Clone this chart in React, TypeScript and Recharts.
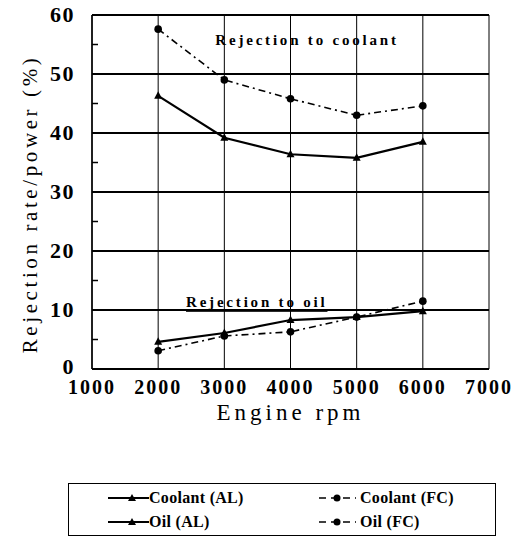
import { CartesianGrid, Legend, Line, LineChart, ReferenceDot, XAxis, YAxis } from 'recharts';

const rpm = [2000, 3000, 4000, 5000, 6000];
const coolantAL = [46.3, 39.2, 36.4, 35.8, 38.5];
const coolantFC = [57.6, 49.0, 45.8, 43.0, 44.6];
const oilAL = [4.6, 6.1, 8.3, 8.8, 9.8];
const oilFC = [3.1, 5.6, 6.3, 8.8, 11.5];

const xTicks = [1000, 2000, 3000, 4000, 5000, 6000, 7000];
const yTicks = [0, 5, 10, 15, 20, 25, 30, 35, 40, 45, 50, 55, 60];
const yGrid = [0, 10, 20, 30, 40, 50, 60];

const series = [
  { key: 'coolantAL', name: 'Coolant (AL)', fc: false },
  { key: 'coolantFC', name: 'Coolant (FC)', fc: true },
  { key: 'oilAL', name: 'Oil (AL)', fc: false },
  { key: 'oilFC', name: 'Oil (FC)', fc: true },
];

const data = rpm.map((r, i) => ({
  rpm: r,
  coolantAL: coolantAL[i],
  coolantFC: coolantFC[i],
  oilAL: oilAL[i],
  oilFC: oilFC[i],
}));

const serif = '"Liberation Serif", "Times New Roman", serif';
const FC_DASH = '7 4 2 4';

const Tri = (p: any) => {
  const { cx, cy } = p;
  if (cx == null || cy == null) return null;
  return <path key={p.key} d={`M${cx},${cy - 4.5}L${cx + 4},${cy + 3}L${cx - 4},${cy + 3}Z`} fill="#000" />;
};

const Dot = (p: any) => {
  const { cx, cy } = p;
  if (cx == null || cy == null) return null;
  return <circle key={p.key} cx={cx} cy={cy} r={3.8} fill="#000" />;
};

const YTick = (p: any) => {
  const { x, y, payload } = p;
  const v = payload.value;
  if (v % 10 !== 0) {
    return <line x1={x + 17} x2={x + 23} y1={y} y2={y} stroke="#000" strokeWidth={1.5} />;
  }
  return (
    <text
      x={x}
      y={y}
      dy={v === 0 ? 5 : 7}
      textAnchor="end"
      fontFamily={serif}
      fontWeight="bold"
      fontSize={22}
      letterSpacing={1.5}
      fill="#000"
    >
      {v}
    </text>
  );
};

const YLabel = (p: any) => {
  const { viewBox } = p;
  const cx = 30;
  const cy = viewBox.y + viewBox.height / 2 + 12;
  return (
    <text
      x={cx}
      y={cy}
      transform={`rotate(-90, ${cx}, ${cy})`}
      textAnchor="middle"
      dominantBaseline="central"
      fontFamily={serif}
      fontSize={21}
      letterSpacing={3.6}
      fill="#000"
    >
      Rejection rate/power (%)
    </text>
  );
};

const note = (text: string, underline: boolean) => (p: any) => {
  const { viewBox } = p;
  const x = viewBox.x + viewBox.width / 2;
  const y = viewBox.y + viewBox.height / 2;
  return (
    <text
      x={x}
      y={y}
      textAnchor="middle"
      dominantBaseline="central"
      fontFamily={serif}
      fontWeight="bold"
      fontSize={15}
      letterSpacing={2.8}
      textDecoration={underline ? 'underline' : undefined}
      fill="#000"
    >
      {text}
    </text>
  );
};

const Sample = ({ fc }: { fc: boolean }) =>
  fc ? (
    <svg width={37} height={12} style={{ display: 'block' }}>
      <line x1={0} x2={37} y1={6} y2={6} stroke="#000" strokeWidth={1.5} strokeDasharray="7 5" />
      <circle cx={18} cy={6} r={3.5} fill="#000" />
    </svg>
  ) : (
    <svg width={41} height={12} style={{ display: 'block' }}>
      <line x1={0} x2={41} y1={6} y2={6} stroke="#000" strokeWidth={1.8} />
      <path d="M24,2L28,9L20,9Z" fill="#000" />
    </svg>
  );

const renderLegend = () => (
  <div
    style={{
      border: '1.5px solid #000',
      boxSizing: 'border-box',
      height: 53,
      display: 'grid',
      gridTemplateColumns: '211px 1fr',
      gridAutoRows: '24px',
      padding: '2px 0 0 39px',
      fontFamily: serif,
      fontWeight: 'bold',
      fontSize: 16,
      color: '#000',
    }}
  >
    {series.map((s) => (
      <div key={s.key} style={{ display: 'flex', alignItems: 'center', gap: s.fc ? 4 : 0 }}>
        <Sample fc={s.fc} />
        <span style={{ letterSpacing: 0.3 }}>{s.name}</span>
      </div>
    ))}
  </div>
);

export default function App() {
  return (
    <div style={{ position: 'absolute', left: 0, top: 0, background: '#fff' }}>
      <LineChart width={523} height={540} data={data} margin={{ top: 15, right: 34, left: 0, bottom: 110 }}>
        <CartesianGrid vertical={false} horizontalValues={yGrid} stroke="#000" strokeWidth={2} />
        <CartesianGrid horizontal={false} stroke="#000" strokeWidth={1} />
        <XAxis
          dataKey="rpm"
          type="number"
          domain={[1000, 7000]}
          ticks={xTicks}
          height={61}
          tickSize={0}
          tickMargin={11}
          axisLine={{ stroke: '#000', strokeWidth: 2 }}
          tick={{ fill: '#000', fontFamily: serif, fontWeight: 'bold', fontSize: 20, letterSpacing: 2 }}
          label={{
            value: 'Engine rpm',
            position: 'insideBottom',
            offset: 10,
            fill: '#000',
            fontFamily: serif,
            fontSize: 23,
            letterSpacing: 4,
          }}
        />
        <YAxis
          type="number"
          domain={[0, 60]}
          ticks={yTicks}
          width={92}
          interval={0}
          tickSize={0}
          tickMargin={17}
          tickLine={false}
          axisLine={{ stroke: '#000', strokeWidth: 1.5 }}
          tick={<YTick />}
          label={<YLabel />}
        />
        <ReferenceDot
          x={4250}
          y={55.8}
          r={0}
          fill="none"
          stroke="none"
          label={{ position: 'center', content: note('Rejection to coolant', false) }}
        />
        <ReferenceDot
          x={3490}
          y={11.3}
          r={0}
          fill="none"
          stroke="none"
          label={{ position: 'center', content: note('Rejection to oil', true) }}
        />
        <Legend
          verticalAlign="middle"
          align="center"
          layout="horizontal"
          wrapperStyle={{ top: 483, left: 68, width: 428, height: 53 }}
          content={renderLegend}
        />
        {series.map((s) => (
          <Line
            key={s.key}
            dataKey={s.key}
            name={s.name}
            type="linear"
            stroke="#000"
            strokeWidth={s.fc ? 1.6 : 2.2}
            strokeDasharray={s.fc ? FC_DASH : undefined}
            dot={s.fc ? Dot : Tri}
            activeDot={false}
            isAnimationActive={false}
          />
        ))}
      </LineChart>
    </div>
  );
}
